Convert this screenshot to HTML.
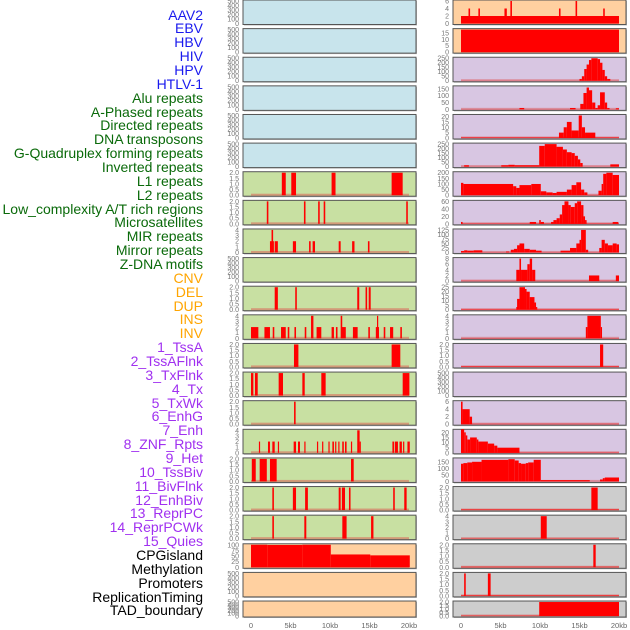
<!DOCTYPE html>
<html><head><meta charset="utf-8">
<style>
html,body{margin:0;padding:0;background:#fff;}
#wrap{position:relative;width:630px;height:630px;overflow:hidden;font-family:"Liberation Sans",sans-serif;}
.lab{position:absolute;right:427px;font-size:14px;line-height:14px;white-space:nowrap;}
svg{position:absolute;left:0;top:0;}
</style></head>
<body>
<div id="wrap">
<div id="labels"></div>
<svg id="svg" width="630" height="630"></svg>
</div>
<script>
// ---- label data ----
const labelNames = ["AAV2","EBV","HBV","HIV","HPV","HTLV-1","Alu repeats","A-Phased repeats","Directed repeats","DNA transposons","G-Quadruplex forming repeats","Inverted repeats","L1 repeats","L2 repeats","Low_complexity A/T rich regions","Microsatellites","MIR repeats","Mirror repeats","Z-DNA motifs","CNV","DEL","DUP","INS","INV","1_TssA","2_TssAFlnk","3_TxFlnk","4_Tx","5_TxWk","6_EnhG","7_Enh","8_ZNF_Rpts","9_Het","10_TssBiv","11_BivFlnk","12_EnhBiv","13_ReprPC","14_ReprPCWk","15_Quies","CPGisland","Methylation","Promoters","ReplicationTiming","TAD_boundary"];
const labelGroups = [6,13,5,15,5];
const groupColors = ["#1a1aee","#0a6a0a","#ffa500","#a030f0","#000000"];

// ---- x axis ----
const xTicks = [0,5,10,15,20];
const xTickLabels = ["0","5kb","10kb","15kb","20kb"];

// ---- panel backgrounds ----
const leftBg = ["b","b","b","b","b","b","g","g","g","g","g","g","g","g","g","g","g","g","g","o","o","o"];
const rightBg = ["o","o","p","p","p","p","p","p","p","p","p","p","p","p","p","p","p","y","y","y","y","y"];

// ---- y axis maxima and ticks ----
const leftMax = [500,500,500,500,500,500,2,2,4,500,2,4,2,2,2,4,2,2,2,100,500,500];
const rightMax = [6,17.5,250,165,21,250,200,60,125,8,25,4,2,500,6,22,172,2,4,2,2,2];
const leftTicks = [
 [0,100,200,300,400,500],[0,100,200,300,400,500],[0,100,200,300,400,500],[0,100,200,300,400,500],[0,100,200,300,400,500],[0,100,200,300,400,500],
 ["0.0","0.5","1.0","1.5","2.0"],["0.0","0.5","1.0","1.5","2.0"],[0,1,2,3,4],[0,100,200,300,400,500],["0.0","0.5","1.0","1.5","2.0"],[0,1,2,3,4],
 ["0.0","0.5","1.0","1.5","2.0"],["0.0","0.5","1.0","1.5","2.0"],["0.0","0.5","1.0","1.5","2.0"],[0,1,2,3,4],["0.0","0.5","1.0","1.5","2.0"],["0.0","0.5","1.0","1.5","2.0"],["0.0","0.5","1.0","1.5","2.0"],
 [0,25,50,75,100],[0,100,200,300,400,500],[0,100,200,300,400,500]];
const rightTicks = [
 [0,2,4,6],[0,5,10,15],[0,50,100,150,200,250],[0,50,100,150],[0,5,10,15,20],[0,50,100,150,200,250],[0,50,100,150,200],[0,20,40,60],[0,25,50,75,100,125],[0,2,4,6,8],[0,5,10,15,20,25],[0,1,2,3,4],
 ["0.0","0.5","1.0","1.5","2.0"],[0,100,200,300,400,500],[0,2,4,6],[0,5,10,15,20],[0,50,100,150],["0.0","0.5","1.0","1.5","2.0"],[0,1,2,3,4],["0.0","0.5","1.0","1.5","2.0"],["0.0","0.5","1.0","1.5","2.0"],["0.0","0.5","1.0","1.5","2.0"]];

// ---- left column segments [startKb, endKb, value] ----
const L_l1 = [[3.9,4.4,2],[5.1,5.7,2],[10.2,10.7,2],[17.8,19.2,2]];
const L_l2 = [[2.0,2.2,2],[6.7,6.9,2],[8.5,8.7,2],[9.2,9.4,2],[19.65,19.85,2]];
const L_lowc = [[2.4,2.9,2],[2.6,2.8,4],[3.0,3.4,2],[5.3,5.7,2],[7.35,7.55,2],[7.8,8.1,2],[11.1,11.35,2],[12.8,13.1,2],[14.8,15.0,2]];
const L_micro = [];
const L_mir = [[3.0,3.4,2],[5.6,5.8,2],[13.45,13.7,2],[14.5,14.7,2],[14.9,15.15,2]];
const L_mirror = [[0,0.93,2],[1.7,2.4,2],[2.75,2.95,2],[3.8,4.4,2],[4.65,4.85,2],[5.5,5.7,2],[6.8,7.0,2],[7.6,7.9,4],[8.3,8.9,2],[10.2,10.5,2],[10.75,10.95,2],[11.35,11.55,4],[11.5,12.0,2],[12.9,13.5,2],[14.85,15.05,2],[15.8,16.2,2],[15.95,16.1,4],[16.8,17.0,2],[17.6,18.0,2],[18.9,19.1,2]];
const L_zdna = [[5.44,6.0,2],[17.8,18.9,2]];
const L_cnv = [[0,0.3,2],[0.5,0.85,2],[3.5,4.05,2],[6.5,6.8,2],[8.9,9.45,2],[19.2,20.05,2]];
const L_del = [[5.45,5.65,2]];
const L_dup = [[1.0,1.15,2],[2.15,2.4,2],[2.7,3.0,2],[3.4,3.55,2],[5.4,5.7,2],[5.95,6.2,2],[6.75,6.9,2],[8.35,8.5,2],[9.0,9.15,2],[9.8,9.95,2],[10.3,10.5,2],[10.65,10.8,2],[11.05,11.2,2],[11.55,11.75,2],[11.9,12.1,2],[12.65,12.8,2],[13.45,13.75,4],[13.75,13.9,2],[17.9,18.1,2],[18.2,18.6,2],[18.8,19.1,2],[19.25,19.4,2],[19.8,20.1,2]];
const L_ins = [[0.1,0.6,2],[1.1,2.0,2],[2.4,3.25,2],[12.66,13.0,2]];
const L_inv = [[2.7,2.9,2],[5.3,5.7,2],[6.85,7.2,2],[11.1,11.35,2],[11.5,11.9,2],[12.4,12.6,2],[18.0,18.2,2],[19.4,19.7,2]];
const L_tssa = [[2.7,2.9,2],[6.75,7.0,2],[11.56,12.1,2],[15.2,15.5,2]];
const L_cpg = [[0,2.06,100],[2.06,6.5,99],[6.5,10.1,100],[10.1,15.1,57],[15.1,20.1,53]];

// ---- right column segments ----
const R_aav2 = [[0,20,2],[0.95,1.15,4],[2.2,2.4,4],[5.5,5.8,4],[6.25,6.45,6],[12.4,12.6,4],[14.5,14.7,6],[18.0,18.2,4]];
const R_ebv = [[0,20,17.5]];
const R_hbv = [[0,20,1],[15.0,15.3,20],[15.3,15.6,50],[15.6,15.9,130],[15.9,16.2,180],[16.2,16.5,230],[16.5,17.3,250],[17.3,17.6,240],[17.6,17.9,200],[17.9,18.2,120],[18.2,18.5,50],[18.5,18.9,20]];
const R_hiv = [[0,20,1],[7.4,8.0,10],[13.8,14.5,10],[15.1,15.5,40],[15.5,15.9,120],[15.9,16.2,160],[16.2,16.6,140],[16.6,17.0,50],[17.0,17.3,10],[17.3,17.6,30],[17.6,18.2,125],[18.2,18.5,50],[18.5,18.8,10],[19.6,20,8]];
const R_htlv = [[0,20,0.5],[12.4,13.0,5],[13.0,13.4,10],[13.4,14.0,15],[14.0,14.9,7],[14.9,15.3,21],[15.3,15.7,10],[15.7,17.0,5]];
const R_alu = [[0,20,1],[0.4,1.0,15],[5.1,6.0,15],[6.0,6.8,20],[6.8,8.8,15],[8.8,9.9,15],[9.9,10.6,230],[10.6,12.1,250],[12.1,12.9,220],[12.9,13.4,190],[13.4,14.0,160],[14.0,14.4,150],[14.4,14.8,120],[14.8,15.1,80],[15.1,15.4,40],[18.9,20.0,25]];
const R_aphased = [[0,0.3,110],[0.3,6.6,100],[6.6,7.0,80],[7.0,7.4,65],[7.4,8.9,90],[8.9,10.1,100],[10.1,10.8,35],[10.8,11.6,25],[11.6,12.1,20],[12.1,13.4,30],[13.4,14.0,50],[14.0,14.6,90],[14.6,15.2,115],[15.2,15.6,50],[15.6,16.0,25],[16.0,17.4,3],[17.4,17.8,40],[17.8,18.0,100],[18.0,18.4,190],[18.4,19.2,200],[19.2,20.0,180]];
const R_directed = [[0,20,1],[0,0.2,5],[8.7,9.5,5],[9.9,10.1,10],[10.1,10.5,5],[11.4,11.7,5],[11.7,12.1,10],[12.1,12.5,15],[12.5,12.8,25],[12.8,13.1,50],[13.1,13.6,60],[13.6,13.9,50],[13.9,14.4,45],[14.4,14.7,55],[14.7,15.2,60],[15.2,15.5,50],[15.5,15.7,20],[15.7,15.9,10],[19.2,19.9,5]];
const R_mir = [[0,20,1],[0,0.4,8],[0.4,0.8,12],[0.8,1.6,10],[1.6,2.7,12],[5.7,6.1,5],[6.3,6.7,15],[6.7,7.1,20],[7.1,7.4,40],[7.4,8.0,50],[8.0,8.7,20],[8.7,9.5,15],[9.5,10.2,10],[12.6,13.8,10],[13.8,14.6,25],[14.6,15.0,50],[15.0,15.2,70],[15.2,15.8,125],[15.8,16.1,15],[17.5,17.8,25],[17.8,18.2,70],[18.2,18.6,50],[18.6,19.2,40],[19.2,19.7,50],[19.7,20.0,45]];
const R_row10 = [[0,20,0.1],[7.0,7.4,4],[7.4,7.6,8],[7.6,8.4,4],[8.4,8.7,6],[8.7,9.0,8],[9.0,9.4,4],[16.2,17.5,2],[19.6,20,2]];
const R_row11 = [[0,20,0.5],[7.0,7.1,3],[7.1,7.4,12],[7.4,8.1,25],[8.1,8.3,23],[8.3,8.7,20],[8.7,9.3,14],[9.3,9.5,8],[9.5,9.6,3]];
const R_row12 = [[0,20,0.05],[15.8,16.0,2],[16.0,17.7,4],[17.7,17.8,2]];
const R_row13 = [[0,20,0.05],[17.6,18.0,2]];
const R_row14 = [];
const R_row15 = [[0,20,0.1],[0,0.2,6],[0.2,1.1,4],[1.1,1.4,2]];
const R_row16 = [[0,20,0.3],[0,0.4,23],[0.4,0.6,20],[0.6,0.8,17],[0.8,1.15,13],[1.15,2.0,15],[2.0,2.2,13],[2.2,3.4,11],[3.4,4.2,9],[4.2,4.6,7],[4.6,7.4,5]];
const R_row17 = [[0,0.3,135],[0.3,0.8,140],[0.8,1.4,145],[1.4,2.6,150],[2.6,6.0,165],[6.0,6.8,170],[6.8,7.3,160],[7.3,7.6,140],[7.6,8.2,135],[8.2,8.5,140],[8.5,9.2,145],[9.2,10.1,165],[10.1,16.3,10],[17.6,17.95,15],[17.95,18.2,25],[18.2,20,30]];
const R_row18 = [[0,20,0.05],[16.5,17.3,2]];
const R_row19 = [[0,20,0.05],[10.1,10.85,4]];
const R_row20 = [[0,20,0.05],[16.75,17.05,2]];
const R_row21 = [[0,20,0.05],[0.4,0.6,2],[3.4,3.75,2]];
const R_row22 = [[0,20,0.05],[9.9,20,2]];

const leftData = [[],[],[],[],[],[],L_l1,L_l2,L_lowc,L_micro,L_mir,L_mirror,L_zdna,L_cnv,L_del,L_dup,L_ins,L_inv,L_tssa,L_cpg,[],[]];
const rightData = [R_aav2,R_ebv,R_hbv,R_hiv,R_htlv,R_alu,R_aphased,R_directed,R_mir,R_row10,R_row11,R_row12,R_row13,R_row14,R_row15,R_row16,R_row17,R_row18,R_row19,R_row20,R_row21,R_row22];

// ---- rendering ----
const NS = "http://www.w3.org/2000/svg";
const svg = document.getElementById("svg");
const bgColors = {b:"#c8e4ec",g:"#c8e0a2",o:"#ffd0a0",p:"#d8c6e2",y:"#cdcdcd"};
const colX = [251, 461]; const colLeft = [243, 453]; const colW = 173; const pxPerKb = 7.9;
function xScale(col, kb){ return colX[col] + kb*pxPerKb; }
function rowTop(i){ return i*28.62; }
function rowH(i){ return i===21 ? 16 : 24.5; }
function yScale(i, v, max){ const b = rowTop(i)+rowH(i)-1; return b - (v/max)*(rowH(i)-2); }
function mk(tag, attrs){ const e=document.createElementNS(NS,tag); for(const k in attrs) e.setAttribute(k,attrs[k]); return e; }

// labels
const labDiv = document.getElementById("labels");
let gi=0, cnt=0;
labelNames.forEach((n,i)=>{
  while(cnt>=labelGroups[gi]){cnt-=labelGroups[gi];gi++;}
  const d=document.createElement("div");
  d.className="lab"; d.textContent=n; d.style.color=groupColors[gi];
  d.style.top=(15+i*13.86-7.5)+"px";
  
  
  labDiv.appendChild(d); cnt++;
});

for(let col=0; col<2; col++){
  const bgs = col===0?leftBg:rightBg, maxes = col===0?leftMax:rightMax, ticks = col===0?leftTicks:rightTicks, data = col===0?leftData:rightData;
  for(let i=0;i<22;i++){
    const g = mk("g",{});
    
    
    const t=rowTop(i), h=rowH(i);
    g.appendChild(mk("rect",{x:colLeft[col]+1,y:t+1,width:colW,height:h,fill:"#bbb"}));
    g.appendChild(mk("rect",{x:colLeft[col],y:t,width:colW,height:h,fill:bgColors[bgs[i]],stroke:"#555","stroke-width":1}));
    const segs = data[i];
    if(segs.length){
      g.appendChild(mk("rect",{x:xScale(col,0),y:t+h-2.5,width:xScale(col,20)-xScale(col,0),height:2,fill:"#d44",opacity:0.45}));
    }
    segs.forEach(s=>{
      const x1=xScale(col,s[0]), x2=xScale(col,s[1]), y=yScale(i,s[2],maxes[i]), yb=yScale(i,0,maxes[i]);
      const r=mk("rect",{x:x1,y:y,width:Math.max(1.2,x2-x1),height:Math.max(0,yb-y),fill:"#ff0000"});
      
      
      g.appendChild(r);
    });
    ticks[i].forEach(tv=>{
      const v=parseFloat(tv);
      const tx=mk("text",{x:colLeft[col]-4,y:yScale(i,v,maxes[i])+2.5,"font-size":7,fill:"#777","text-anchor":"end","font-family":"Liberation Sans, sans-serif"});
      tx.textContent=String(tv);
      
      
      g.appendChild(tx);
    });
    svg.appendChild(g);
  }
  xTicks.forEach((kb,k)=>{
    const tx=mk("text",{x:xScale(col,kb),y:628,"font-size":7.5,fill:"#666","text-anchor":"middle","font-family":"Liberation Sans, sans-serif"});
    tx.textContent=xTickLabels[k];
    
    
    svg.appendChild(tx);
  });
}
</script>
</body></html>
